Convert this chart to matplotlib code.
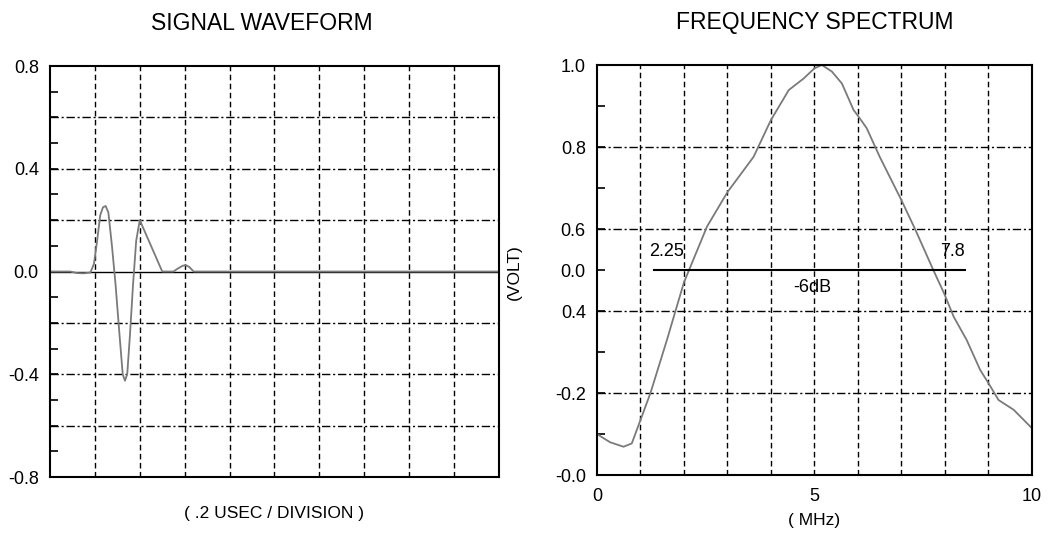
import numpy as np
import matplotlib
matplotlib.use("Agg")
import matplotlib.pyplot as plt

plt.rcParams['font.family'] = ['Liberation Sans', 'DejaVu Sans']

# signal waveform, time in divisions (.2 usec each), amplitude in volts
wave_t = [0, 0.45, 0.6, 0.75, 0.9, 0.98, 1.05, 1.12, 1.18, 1.24, 1.3, 1.38, 1.46,
          1.55, 1.62, 1.67, 1.72, 1.78, 1.85, 1.92, 1.97, 2.0, 2.1, 2.25, 2.4, 2.5,
          2.75, 2.85, 2.95, 3.02, 3.1, 3.2, 3.4, 10]
wave_v = [0, 0, -0.006, -0.007, -0.004, 0.03, 0.12, 0.22, 0.25, 0.255, 0.23, 0.10, -0.05,
          -0.25, -0.40, -0.425, -0.40, -0.25, -0.05, 0.12, 0.17, 0.20, 0.16, 0.10, 0.04, 0.0,
          0.0, 0.012, 0.022, 0.025, 0.018, 0.0, 0.0, 0.0]

# frequency spectrum, MHz vs normalised amplitude
spec_f = [0, 0.3, 0.61, 0.8, 1.0, 1.23, 1.61, 2.0, 2.53, 3.0, 3.6, 4.0, 4.41, 4.75, 5.0,
          5.17, 5.4, 5.63, 5.9, 6.0, 6.2, 6.5, 7.0, 7.32, 7.74, 7.98, 8.2, 8.5, 8.81,
          9.0, 9.23, 9.58, 10.0]
spec_a = [0.10, 0.08, 0.069, 0.077, 0.134, 0.20, 0.33, 0.47, 0.606, 0.69, 0.776, 0.866,
          0.939, 0.967, 0.992, 1.0, 0.984, 0.955, 0.89, 0.876, 0.846, 0.776, 0.67, 0.598,
          0.498, 0.443, 0.386, 0.329, 0.256, 0.224, 0.183, 0.159, 0.114]

left_ticks = [0.8, 0.4, 0.0, -0.4, -0.8]
left_ticklabels = ['0.8', '0.4', '0.0', '-0.4', '-0.8']
right_ticks = [1.0, 0.8, 0.6, 0.5, 0.4, 0.2, 0.0]
right_ticklabels = ['1.0', '0.8', '0.6', '0.0', '0.4', '-0.2', '-0.0']

bw_lo, bw_hi = 1.3, 8.45   # -6dB bar ends
bw_lo_label, bw_hi_label = '2.25', '7.8'

curve_col = '#7a7a7a'
hdash = dict(color='black', lw=1.0, dashes=(6, 2, 1.5, 2))
vdash = dict(color='black', lw=1.0, dashes=(4, 2.5))
tick_fs = 13
lab_fs = 12.5

fig = plt.figure(figsize=(10.59, 5.39), dpi=100)

# ---- signal waveform ----
ax1 = fig.add_axes([0.0472, 0.115, 0.424, 0.7625])
ax1.set_xlim(0, 10)
ax1.set_ylim(-0.8, 0.8)
for x in range(1, 10):
    ax1.axvline(x, **vdash)
for y in [0.6, 0.4, 0.2, -0.2, -0.4, -0.6]:
    ax1.axhline(y, **hdash)
ax1.axhline(0.0, color='black', lw=1.0)
ax1.plot(wave_t, wave_v, color=curve_col, lw=1.3)
yt1 = np.round(np.arange(-0.8, 0.81, 0.1), 1)
ax1.set_yticks(yt1)
ax1.set_yticklabels([left_ticklabels[left_ticks.index(v)] if v in left_ticks else ''
                     for v in yt1], fontsize=tick_fs)
ax1.tick_params(axis='y', direction='in', length=6, width=1.2, pad=8)
ax1.set_xticks([])
ax1.set_xlabel('( .2 USEC / DIVISION )', fontsize=lab_fs, labelpad=21)
for s in ax1.spines.values():
    s.set_linewidth(1.5)

# ---- frequency spectrum ----
ax2 = fig.add_axes([0.5637, 0.1187, 0.4108, 0.7607])
ax2.set_xlim(0, 10)
ax2.set_ylim(0, 1.0)
for x in range(1, 10):
    ax2.axvline(x, **vdash)
for y in [0.8, 0.6, 0.4, 0.2]:
    ax2.axhline(y, **hdash)
ax2.plot(spec_f, spec_a, color=curve_col, lw=1.3)
ax2.plot([bw_lo, bw_hi], [0.5, 0.5], color='black', lw=1.5)
ax2.text(bw_lo + 0.3, 0.525, bw_lo_label, fontsize=tick_fs, ha='center', va='bottom')
ax2.text(bw_hi - 0.27, 0.525, bw_hi_label, fontsize=tick_fs, ha='center', va='bottom')
ax2.text(4.96, 0.478, '-6dB', fontsize=tick_fs, ha='center', va='top')
yt2 = np.round(np.arange(0, 1.01, 0.1), 1)
ax2.set_yticks(yt2)
ax2.set_yticklabels([right_ticklabels[right_ticks.index(v)] if v in right_ticks else ''
                     for v in yt2], fontsize=tick_fs)
ax2.tick_params(axis='y', direction='in', length=6, width=1.2, pad=8)
ax2.set_xticks([0, 5, 10])
ax2.set_xticklabels(['0', '5', '10'], fontsize=tick_fs)
ax2.tick_params(axis='x', length=0, pad=9)
ax2.set_xlabel('( MHz)', fontsize=lab_fs, labelpad=6)
for s in ax2.spines.values():
    s.set_linewidth(1.5)

fig.text(262 / 1059, 1 - 23 / 539, 'SIGNAL WAVEFORM', fontsize=16.5, ha='center', va='center')
fig.text(815 / 1059, 1 - 23 / 539, 'FREQUENCY SPECTRUM', fontsize=16.5, ha='center', va='center')
fig.text(514 / 1059, 1 - 272 / 539, '(VOLT)', fontsize=lab_fs, rotation=90,
         ha='center', va='center')

fig.savefig('out.png', dpi=100)
